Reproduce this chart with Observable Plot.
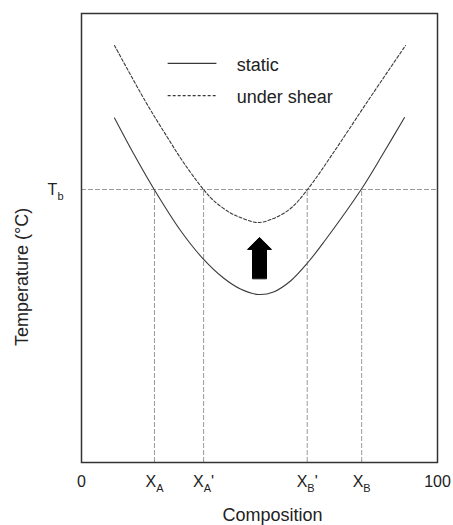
<!DOCTYPE html>
<html>
<head>
<meta charset="utf-8">
<script src="https://cdn.jsdelivr.net/npm/d3@7"></script>
<script src="https://cdn.jsdelivr.net/npm/@observablehq/plot@0.6"></script>
<style>
  html, body { margin: 0; padding: 0; background: #fff; }
  #chart svg { display: block; font-family: "Liberation Sans", Arial, Helvetica, sans-serif; }
</style>
</head>
<body>
<div id="chart"></div>
<script>
// Phase boundary (temperature vs composition), static vs under shear
const staticX = [9.27, 14.61, 20.51, 27.81, 33.99, 39.89, 44.66, 49.72, 53.93, 58.71, 63.48, 67.98, 78.65, 84.83, 90.73];
const staticT = [76.73, 68.82, 60.69, 51.67, 45.52, 41.09, 38.64, 37.42, 37.97, 40.42, 44.43, 49.00, 60.91, 68.93, 76.84];

const shearX = [9.27, 17.98, 24.16, 28.65, 34.27, 37.08, 41.85, 44.66, 49.44, 53.93, 58.71, 63.48, 70.79, 80.34, 91.01];
const shearT = [92.87, 80.40, 72.38, 66.82, 60.80, 58.35, 55.57, 54.57, 53.45, 54.34, 56.57, 60.80, 69.04, 80.40, 92.87];

// Binodal temperature and the compositions where each curve crosses it
const Tb = 60.8;
const crossX = [20.5, 34.3, 63.4, 78.7];

// Tick labels ("_" marks a subscript)
const xTickValues = [0, 20.5, 34.3, 63.4, 78.7, 100];
const xTickLabels = ["0", "X_A", "X_A'", "X_B'", "X_B", "100"];
const yTickValues = [Tb];
const yTickLabels = ["T_b"];

const xLabel = "Composition";
const yLabel = "Temperature (°C)";

// Legend entries and their placement in data units
const legendLabels = ["static", "under shear"];
const legendY = [88.9, 81.7];
const legendX1 = 24.2, legendX2 = 37.9, legendTextX = 43.6;

// Upward arrow marking the shift of the curve under shear
const arrowX = 50.0, arrowBase = 41.0, arrowLength = 41;

const toPoints = (xs, ys) => xs.map((x, i) => ({x, y: ys[i]}));
const staticPts = toPoints(staticX, staticT);
const shearPts = toPoints(shearX, shearT);

const blockArrow = {
  draw(context, l) {
    const shaft = 7, head = 12, headLen = 12;
    context.moveTo(-shaft, 0);
    context.lineTo(-shaft, -(l - headLen));
    context.lineTo(-head, -(l - headLen));
    context.lineTo(0, -l);
    context.lineTo(head, -(l - headLen));
    context.lineTo(shaft, -(l - headLen));
    context.lineTo(shaft, 0);
    context.closePath();
  }
};

const gridStyle = {stroke: "#9a9a9a", strokeWidth: 1, strokeDasharray: "5,2"};
const ink = "#3a3a3a";
const solid = {stroke: ink, strokeWidth: 1.1};
const dashed = {stroke: ink, strokeWidth: 1.1, strokeDasharray: "3,2"};

const plot = Plot.plot({
  width: 453,
  height: 525,
  marginTop: 13,
  marginLeft: 81,
  marginRight: 16,
  marginBottom: 63,
  style: {fontSize: "16px", color: "#222", background: "white"},
  x: {domain: [0, 100]},
  y: {domain: [0, 100]},
  marks: [
    Plot.ruleY([Tb], gridStyle),
    Plot.ruleX(crossX, {y1: 0, y2: Tb, ...gridStyle}),
    Plot.line(staticPts, {x: "x", y: "y", curve: "catmull-rom", ...solid}),
    Plot.line(shearPts, {x: "x", y: "y", curve: "catmull-rom", ...dashed}),
    Plot.vector([{x: arrowX, y: arrowBase}], {
      x: "x", y: "y", length: arrowLength, anchor: "start", shape: blockArrow,
      fill: "black", stroke: "black", strokeWidth: 1
    }),
    // legend
    Plot.link([legendY[0]], {x1: () => legendX1, x2: () => legendX2, y1: (d) => d, y2: (d) => d, ...solid}),
    Plot.link([legendY[1]], {x1: () => legendX1, x2: () => legendX2, y1: (d) => d, y2: (d) => d, ...dashed}),
    Plot.text(legendLabels, {
      x: () => legendTextX, y: (d, i) => legendY[i], text: (d) => d, textAnchor: "start",
      fontSize: 18, fill: "#222", dy: 2
    }),
    Plot.axisX({
      ticks: xTickValues, tickSize: 0, tickPadding: 13,
      tickFormat: (d) => xTickLabels[xTickValues.indexOf(d)],
      label: null, fontSize: 16
    }),
    Plot.axisY({
      ticks: yTickValues, tickSize: 0, tickPadding: 18,
      tickFormat: (d) => yTickLabels[yTickValues.indexOf(d)],
      label: null, fontSize: 16
    }),
    Plot.text([xLabel], {
      frameAnchor: "bottom", textAnchor: "middle", lineAnchor: "middle",
      dx: 13, dy: 53, fontSize: 18, fill: "#222"
    }),
    Plot.text([yLabel], {
      frameAnchor: "left", textAnchor: "middle", lineAnchor: "middle", rotate: -90,
      dx: -59, dy: 39, fontSize: 18, fill: "#222"
    }),
    Plot.frame({stroke: "#333", strokeWidth: 1.5})
  ]
});

// Turn "X_A'" style labels into base text + subscript (+ prime)
d3.select(plot).selectAll("text").each(function () {
  const t = this.textContent;
  const m = t.match(/^([^_]+)_([^']+)('?)$/);
  if (!m) return;
  const el = d3.select(this);
  el.text(null);
  el.append("tspan").text(m[1]);
  el.append("tspan").attr("dy", 5).attr("font-size", 11).text(m[2]);
  if (m[3]) el.append("tspan").attr("dy", -5).text(m[3]);
});

document.getElementById("chart").append(plot);
</script>
</body>
</html>
